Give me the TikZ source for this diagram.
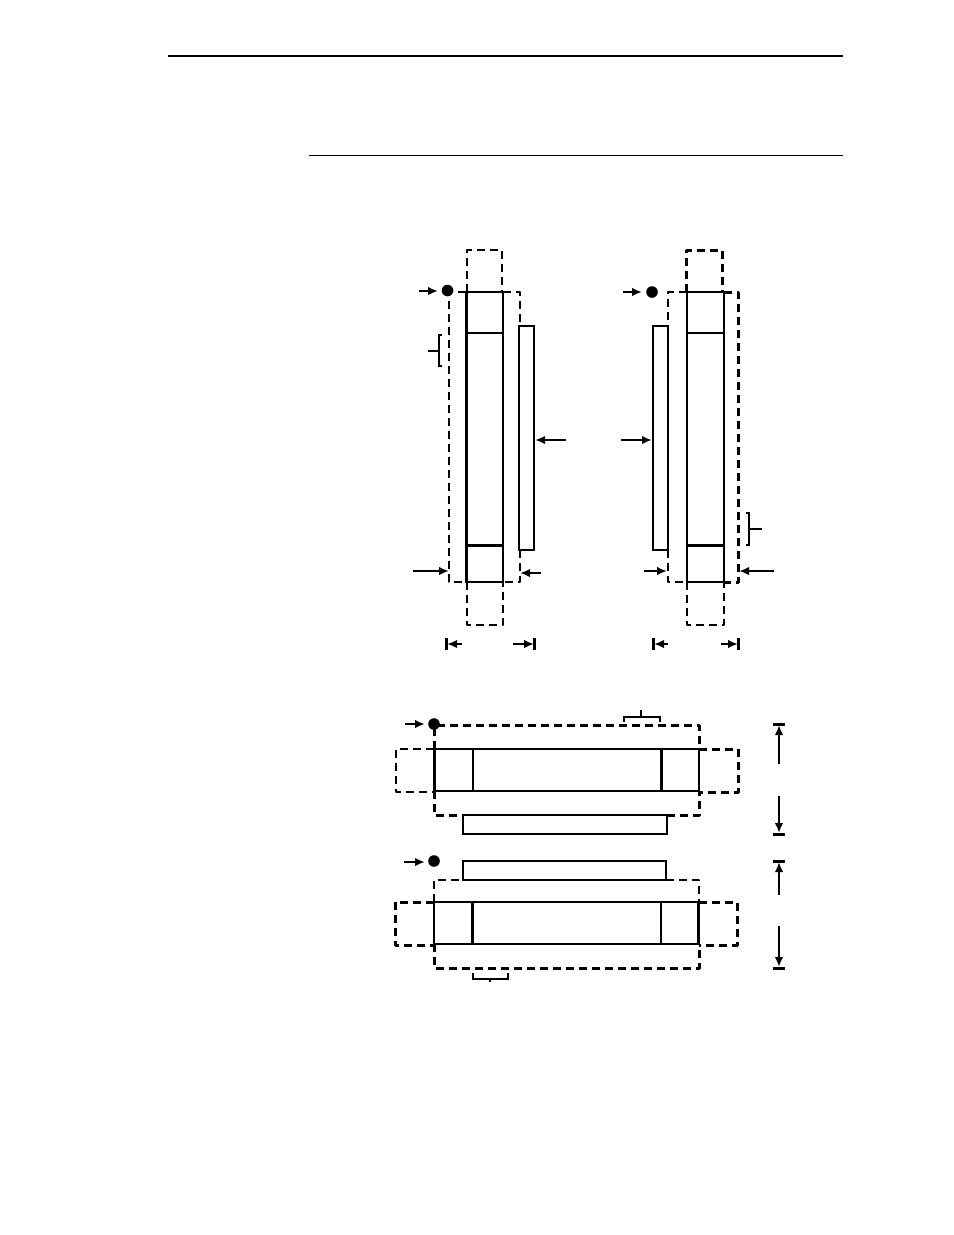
\documentclass[tikz,border=0pt]{standalone}
\usetikzlibrary{arrows.meta}
\tikzset{
  solidbox/.style={draw=black,line width=2.2bp,line join=miter},
  thinbox/.style={draw=black,line width=1.8bp,fill=white},
  heavy/.style={draw=black,line width=3bp},
  dashbox/.style={draw=black,line width=2.6bp,dash pattern=on 8bp off 5bp,line join=round},
  dashheavy/.style={dashbox,line width=3bp},
  pointer/.style={draw=black,line width=2bp,-{Latex[length=10bp,width=8.5bp]}},
  bar/.style={draw=black,line width=3bp},
  bracket/.style={draw=black,line width=2bp},
  spot/.style={fill=black,draw=none},
}
\begin{document}
\begin{tikzpicture}[x=1bp,y=-1bp]
\useasboundingbox (0,0) rectangle (954,1235);
\fill[white] (0,0) rectangle (954,1235);
% page rules
\draw[black,line width=2bp] (168,56) -- (843,56);
\draw[black,line width=1bp] (309,155.5) -- (843,155.5);

% ===== upper left unit =====
\draw[dashbox] (467,292) -- (467,250) -- (502,250) -- (502,292);
\draw[dashbox] (467,582) -- (467,625) -- (503,625) -- (503,582);
\draw[dashbox] (466,292) -- (449,292) -- (449,582) -- (466,582);
\draw[dashbox] (503,292) -- (520,292) -- (520,326);
\draw[dashbox] (520,550) -- (520,582) -- (503,582);
\draw[solidbox] (467,292) rectangle (503,582);
\draw[heavy] (466.5,291) -- (466.5,583);
\draw[solidbox] (467,333) -- (503,333);
\draw[heavy] (467,545.5) -- (503,545.5);
\draw[thinbox] (519,326) rectangle (534,550);
\fill[spot] (447.5,290.5) circle (5.8bp);
\draw[pointer] (419,291) -- (438,291);
\draw[bracket] (428,351) -- (439,351);
\draw[bracket] (442,335) -- (439,335) -- (439,366) -- (442,366);
\draw[pointer] (566,440) -- (535,440);
\draw[pointer] (413,571) -- (449,571);
\draw[pointer] (541,573) -- (520,573);
\draw[bar] (446.5,638) -- (446.5,650);
\draw[pointer] (462,644) -- (447,644);
\draw[bar] (534.5,638) -- (534.5,650);
\draw[pointer] (513,644) -- (534,644);

% ===== upper right unit =====
\draw[dashheavy] (686.5,292) -- (686.5,250) -- (722,250) -- (722,292);
\draw[dashbox] (687,582) -- (687,625) -- (724,625) -- (724,582);
\draw[dashbox] (687,292) -- (668,292) -- (668,326);
\draw[dashbox] (668,550) -- (668,582) -- (687,582);
\draw[dashheavy] (724,292) -- (738.5,292) -- (738.5,582) -- (724,582);
\draw[solidbox] (687,292) rectangle (724,582);
\draw[solidbox] (687,333) -- (724,333);
\draw[heavy] (687,545.5) -- (724,545.5);
\draw[thinbox] (653,326) rectangle (668,550);
\fill[spot] (652,292) circle (5.8bp);
\draw[pointer] (623,292) -- (642,292);
\draw[pointer] (621,440) -- (652,440);
\draw[bracket] (746,513) -- (749,513) -- (749,545) -- (746,545);
\draw[bracket] (749,529) -- (762,529);
\draw[pointer] (644,571) -- (667,571);
\draw[pointer] (774,571) -- (739,571);
\draw[bar] (653,638) -- (653,650);
\draw[pointer] (668,644) -- (654,644);
\draw[bar] (738,638) -- (738,650);
\draw[pointer] (721,644) -- (738,644);

% ===== lower view, top unit =====
\draw[dashheavy] (434,749) -- (434,725.5) -- (699,725.5) -- (699,749);
\draw[dashheavy] (434,791) -- (434,815.5) -- (463,815.5);
\draw[dashheavy] (667,815.5) -- (699,815.5) -- (699,791);
\draw[dashbox] (434,749) -- (396,749) -- (396,792) -- (434,792);
\draw[dashheavy] (699,749) -- (738,749) -- (738,792) -- (699,792);
\draw[solidbox] (435,749) rectangle (699,791);
\draw[heavy] (434.5,748) -- (434.5,792);
\draw[solidbox] (473,749) -- (473,791);
\draw[heavy] (661.5,749) -- (661.5,791);
\draw[thinbox] (463,815) rectangle (667,834);
\fill[spot] (434,724) circle (5.8bp);
\draw[pointer] (405,724) -- (425,724);
\draw[bracket] (624,722) -- (624,717) -- (660,717) -- (660,722);
\draw[bracket] (641,710) -- (641,717);
\draw[bar] (773,724) -- (785,724);
\draw[pointer] (779,764) -- (779,725);
\draw[pointer] (779,796) -- (779,833);
\draw[bar] (773,834) -- (785,834);

% ===== lower view, bottom unit =====
\draw[dashbox] (434,902) -- (434,880) -- (463,880);
\draw[dashbox] (666,880) -- (699,880) -- (699,902);
\draw[dashheavy] (434,944) -- (434,968) -- (699,968) -- (699,944);
\draw[dashheavy] (434,902) -- (395,902) -- (395,945) -- (434,945);
\draw[dashheavy] (699,902) -- (737,902) -- (737,945) -- (699,945);
\draw[solidbox] (434,902) rectangle (699,944);
\draw[heavy] (698.5,901) -- (698.5,945);
\draw[heavy] (472.5,902) -- (472.5,944);
\draw[solidbox] (661,902) -- (661,944);
\draw[thinbox] (463,861) rectangle (666,880);
\fill[spot] (434,861) circle (5.8bp);
\draw[pointer] (404,862) -- (425,862);
\draw[bracket] (473,973) -- (473,979) -- (508,979) -- (508,973);
\draw[bracket] (490,979) -- (490,982);
\draw[bar] (773,861) -- (785,861);
\draw[pointer] (779,895) -- (779,862);
\draw[pointer] (779,926) -- (779,967);
\draw[bar] (773,968) -- (785,968);
\end{tikzpicture}
\end{document}
